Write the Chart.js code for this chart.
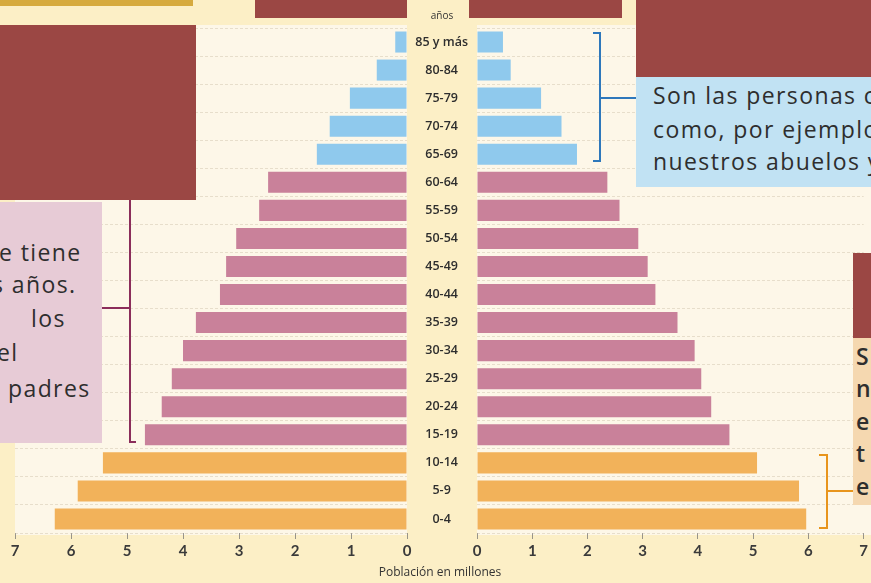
<!DOCTYPE html>
<html>
<head>
<meta charset="utf-8">
<script src="https://cdn.jsdelivr.net/npm/chart.js@4.4.0/dist/chart.umd.min.js"></script>
<style>
  body { margin: 0; width: 871px; height: 583px; overflow: hidden; position: relative;
         background: #fcefc6; font-family: "Open Sans", sans-serif; }
  .abs { position: absolute; }
  .box { position: absolute; overflow: hidden; }
  .red { background: #9b4744; }
  .txt { position: absolute; white-space: nowrap; color: #2e2e2e; font-size: 23px; letter-spacing: 1.4px; line-height: 32px; }
</style>
</head>
<body>
<!-- plot panels -->
<div class="abs" style="left:15px;top:25px;width:392px;height:510px;background:#fdf7e8"></div>
<div class="abs" style="left:477px;top:25px;width:394px;height:510px;background:#fdf7e8"></div>

<div class="abs" style="left:0;top:0;width:420px;height:583px"><canvas id="leftChart"></canvas></div>
<div class="abs" style="left:407px;top:0;width:464px;height:583px"><canvas id="rightChart"></canvas></div>

<div class="abs" style="left:407px;top:8px;width:70px;text-align:center;font-size:10px;color:#333">años</div>
<div class="abs" style="left:340px;top:563px;width:200px;text-align:center;font-size:12px;color:#333">Población en millones</div>

<!-- overlay boxes -->
<div class="box" style="left:0;top:0;width:193px;height:6px;background:#d6aa3e"></div>
<div class="box red" style="left:0;top:25px;width:196px;height:175px"></div>
<div class="box red" style="left:255px;top:0;width:152px;height:18px"></div>
<div class="box red" style="left:469px;top:0;width:153px;height:18px"></div>
<div class="box red" style="left:636px;top:0;width:235px;height:77px"></div>
<div class="box red" style="left:853px;top:253px;width:18px;height:85px"></div>

<div class="box" style="left:636px;top:77px;width:235px;height:110px;background:#c1e2f3">
  <div class="txt" style="left:17px;top:2px">Son las personas c</div>
  <div class="txt" style="left:17px;top:36px">como, por ejemplo</div>
  <div class="txt" style="left:17px;top:68px">nuestros abuelos y</div>
</div>

<div class="box" style="left:0;top:202px;width:102px;height:241px;background:#e7cbd6">
  <div class="txt" style="left:-1px;top:34px">e tiene</div>
  <div class="txt" style="left:-8px;top:66px">s años.</div>
  <div class="txt" style="left:31px;top:100px">los</div>
  <div class="txt" style="left:-3px;top:134px">el</div>
  <div class="txt" style="left:8px;top:170px">padres</div>
</div>

<div class="box" style="left:853px;top:338px;width:18px;height:167px;background:#f5d8b0">
  <div class="txt" style="left:3px;top:2px;font-weight:600">S</div>
  <div class="txt" style="left:3px;top:34px;font-weight:600">n</div>
  <div class="txt" style="left:3px;top:67px;font-weight:600">e</div>
  <div class="txt" style="left:3px;top:99px;font-weight:600">t</div>
  <div class="txt" style="left:3px;top:132px;font-weight:600">e</div>
</div>

<!-- brackets -->
<div class="abs" style="left:129px;top:200px;width:2px;height:243px;background:#8b2d5a"></div>
<div class="abs" style="left:129px;top:441px;width:7px;height:2px;background:#8b2d5a"></div>
<div class="abs" style="left:102px;top:307px;width:28px;height:2px;background:#8b2d5a"></div>

<div class="abs" style="left:599px;top:32px;width:2px;height:130px;background:#2e78bb"></div>
<div class="abs" style="left:593px;top:32px;width:8px;height:2px;background:#2e78bb"></div>
<div class="abs" style="left:593px;top:160px;width:8px;height:2px;background:#2e78bb"></div>
<div class="abs" style="left:600px;top:97px;width:36px;height:2px;background:#2e78bb"></div>

<div class="abs" style="left:826px;top:454px;width:2px;height:75px;background:#e8951c"></div>
<div class="abs" style="left:819px;top:454px;width:9px;height:2px;background:#e8951c"></div>
<div class="abs" style="left:819px;top:527px;width:9px;height:2px;background:#e8951c"></div>
<div class="abs" style="left:827px;top:490px;width:26px;height:2px;background:#e8951c"></div>

<script>
/* population pyramid, values in millions, youngest group first */
var ageGroups = ['0-4', '5-9', '10-14', '15-19', '20-24', '25-29', '30-34', '35-39', '40-44',
                 '45-49', '50-54', '55-59', '60-64', '65-69', '70-74', '75-79', '80-84', '85 y más'];
var leftValues  = [6.29, 5.88, 5.43, 4.68, 4.38, 4.20, 4.00, 3.77, 3.34,
                   3.23, 3.05, 2.64, 2.48, 1.61, 1.38, 1.02, 0.54, 0.21];
var rightValues = [5.96, 5.83, 5.07, 4.57, 4.24, 4.06, 3.94, 3.63, 3.23,
                   3.09, 2.92, 2.58, 2.36, 1.81, 1.53, 1.16, 0.61, 0.47];

var childColor = '#f2b25a';
var adultColor = '#c9819a';
var elderColor = '#8fc9ed';

function barColor(ctx) {
  var i = ctx.dataIndex;
  if (i < 3) return childColor;
  if (i < 13) return adultColor;
  return elderColor;
}

var gridColor = 'rgba(190,175,150,0.35)';
var tickFont  = { family: 'Lato', size: 15, weight: 'bold' };

function xScale(reverse) {
  return {
    reverse: reverse, min: 0, max: 7,
    ticks: { stepSize: 1, color: '#3a3a3a', font: tickFont, padding: 3 },
    grid: { drawOnChartArea: false, tickLength: 6, tickColor: 'rgba(110,110,110,0.7)' },
    border: { display: false },
    afterFit: function(s) { s.height = 26; }
  };
}

function dataset(values) {
  return {
    data: values,
    backgroundColor: barColor,
    borderWidth: 0,
    barPercentage: 0.75,
    categoryPercentage: 1
  };
}

var baseOpts = {
  responsive: true, maintainAspectRatio: false, animation: false,
  indexAxis: 'y',
  plugins: { legend: { display: false }, tooltip: { enabled: false } }
};

new Chart(document.getElementById('leftChart'), {
  type: 'bar',
  data: { labels: ageGroups, datasets: [dataset(leftValues)] },
  options: Object.assign({}, baseOpts, {
    layout: { padding: { left: 15, right: 13, top: 28, bottom: 24 } },
    scales: {
      x: xScale(true),
      y: {
        reverse: true,
        ticks: { display: false },
        grid: { color: gridColor, drawTicks: false },
        border: { display: false, dash: [3, 2] },
        afterFit: function(s) { s.width = 0; }
      }
    }
  })
});

new Chart(document.getElementById('rightChart'), {
  type: 'bar',
  data: { labels: ageGroups, datasets: [dataset(rightValues)] },
  options: Object.assign({}, baseOpts, {
    layout: { padding: { left: 0, right: 5, top: 28, bottom: 24 } },
    scales: {
      x: xScale(false),
      y: {
        reverse: true,
        ticks: { crossAlign: 'center', padding: 9, color: '#2e2e2e', font: { family: 'Open Sans', size: 12.5, weight: '600' } },
        grid: { color: gridColor, drawTicks: false },
        border: { display: false, dash: [3, 2] },
        afterFit: function(s) { s.width = 70; }
      }
    }
  })
});
</script>
</body>
</html>
